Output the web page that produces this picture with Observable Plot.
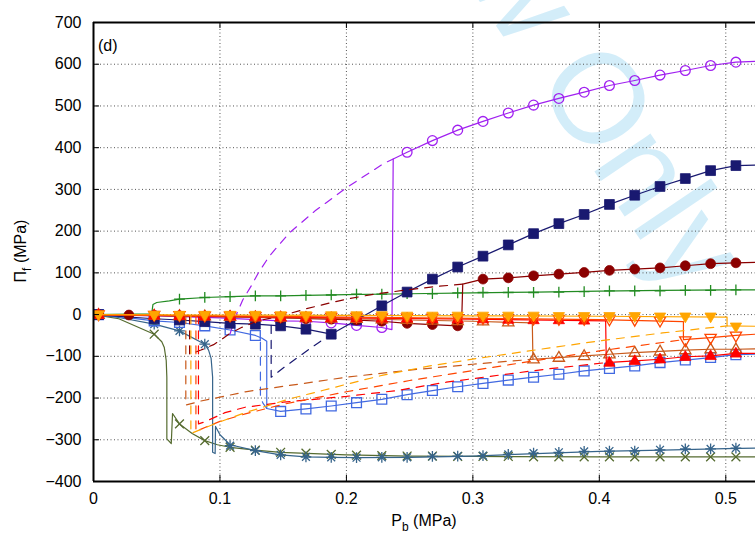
<!DOCTYPE html>
<html><head><meta charset="utf-8">
<script src="https://cdn.jsdelivr.net/npm/d3@7"></script>
<script src="https://cdn.jsdelivr.net/npm/@observablehq/plot@0.6"></script>
<style>
body{margin:0;background:#fff;}
#chart svg{display:block;}
</style></head><body><div id="chart"></div>
<script>
// ---------- axis ticks ----------
const xTicks = [0, 0.1, 0.2, 0.3, 0.4, 0.5];
const yTicks = [-400, -300, -200, -100, 0, 100, 200, 300, 400, 500, 600, 700];
const xGrid = [0.1, 0.2, 0.3, 0.4, 0.5];
const yGrid = [-300, -200, -100, 0, 100, 200, 300, 400, 500, 600];

// ---------- series (P_b [MPa], Pi_f [MPa]) ----------
// purple, open circles
const purpleSolid = [[0,0],[0.05,-3],[0.1,-8],[0.148,-15],[0.168,-16],[0.188,-20],[0.208,-26],[0.228,-31],[0.236,-36],[0.237,373],[0.248,389],[0.268,417],[0.288,442],[0.308,463],[0.328,483],[0.348,502],[0.368,518],[0.388,533],[0.408,549],[0.428,561],[0.448,574],[0.468,585],[0.488,597],[0.508,605],[0.5235,607]];
const purpleDash = [[0.108,-9],[0.108,-46],[0.113,0],[0.118,35],[0.125,70],[0.13,98],[0.139,140],[0.155,196],[0.175,248],[0.2,304],[0.23,363],[0.237,373]];
const purpleMarks = [[0.004,0],[0.048,-3],[0.068,-5],[0.088,-7],[0.108,-9],[0.128,-12],[0.148,-15],[0.168,-16],[0.188,-20],[0.208,-26],[0.228,-31],[0.248,389],[0.268,417],[0.288,442],[0.308,463],[0.328,483],[0.348,502],[0.368,518],[0.388,533],[0.408,549],[0.428,561],[0.448,574],[0.468,585],[0.488,597],[0.508,605]];

// navy, filled squares
const navySolid = [[0,0],[0.048,-10],[0.068,-13],[0.088,-17],[0.108,-21],[0.128,-23],[0.148,-27],[0.168,-35],[0.188,-47],[0.208,-13],[0.228,21],[0.248,54],[0.268,85],[0.288,114],[0.308,140],[0.328,167],[0.348,194],[0.368,218],[0.388,240],[0.408,264],[0.428,286],[0.448,307],[0.468,326],[0.488,345],[0.508,357],[0.5235,358]];
const navyDash = [[0.1405,-26],[0.1405,-150],[0.15,-128],[0.16,-106],[0.17,-84],[0.18,-63],[0.188,-47]];
const navyMarks = [[0.004,0],[0.048,-10],[0.068,-13],[0.088,-17],[0.108,-21],[0.128,-23],[0.148,-27],[0.168,-35],[0.188,-47],[0.208,-13],[0.228,21],[0.248,54],[0.268,85],[0.288,114],[0.308,140],[0.328,167],[0.348,194],[0.368,218],[0.388,240],[0.408,264],[0.428,286],[0.448,307],[0.468,326],[0.488,345],[0.508,357]];

// dark red, filled circles
const darkredSolid = [[0,0],[0.05,-2],[0.1,-5],[0.15,-8],[0.2,-12],[0.228,-16],[0.248,-21],[0.268,-24],[0.288,-27],[0.291,-30],[0.292,73],[0.308,85],[0.328,88],[0.348,93],[0.368,97],[0.388,101],[0.408,106],[0.428,109],[0.448,112],[0.468,117],[0.488,122],[0.508,124],[0.5235,125]];
const darkredDash = [[0.076,-3],[0.076,-95],[0.085,-85],[0.095,-72],[0.1,-62],[0.108,-45],[0.117,-31],[0.13,-15],[0.15,-2],[0.167,13],[0.187,28],[0.2,37],[0.22,48],[0.25,60],[0.27,67],[0.292,73]];
const darkredMarks = [[0.004,0],[0.028,-1],[0.048,-2],[0.068,-3],[0.088,-4],[0.108,-5],[0.128,-7],[0.148,-8],[0.168,-10],[0.188,-11],[0.208,-13],[0.228,-16],[0.248,-21],[0.268,-24],[0.288,-27],[0.308,85],[0.328,88],[0.348,93],[0.368,97],[0.388,101],[0.408,106],[0.428,109],[0.448,112],[0.468,117],[0.488,122],[0.508,124]];

// green, plus
const greenSolid = [[0,0],[0.046,2],[0.047,24],[0.05,29],[0.06,33],[0.068,37],[0.088,41],[0.108,43],[0.128,45],[0.148,45],[0.168,46],[0.2,48],[0.25,50],[0.3,52],[0.35,54],[0.4,56],[0.45,58],[0.5,59],[0.5235,59]];
const greenMarks = [[0.004,0],[0.068,37],[0.088,41],[0.108,43],[0.128,45],[0.148,45],[0.168,46],[0.188,47],[0.208,49],[0.228,49],[0.248,50],[0.268,50],[0.288,52],[0.308,53],[0.328,53],[0.348,53],[0.368,54],[0.388,55],[0.408,57],[0.428,57],[0.448,57],[0.468,58],[0.488,58],[0.508,59]];

// steel blue, asterisks
const steelSolid = [[0,0],[0.02,-7],[0.048,-23],[0.068,-39],[0.088,-71],[0.091,-85],[0.093,-105],[0.0942,-150],[0.0942,-330],[0.0962,-333],[0.0965,-268],[0.1,-288],[0.108,-312],[0.128,-326],[0.148,-336],[0.168,-341],[0.188,-342],[0.208,-343],[0.25,-342],[0.3,-339],[0.35,-333],[0.4,-328],[0.45,-325],[0.5,-321],[0.5235,-320]];
const steelMarks = [[0.004,0],[0.048,-23],[0.068,-39],[0.088,-71],[0.108,-314],[0.128,-326],[0.148,-336],[0.168,-341],[0.188,-342],[0.208,-343],[0.228,-342],[0.248,-342],[0.268,-340],[0.288,-339],[0.308,-338],[0.328,-335],[0.348,-332],[0.368,-330],[0.388,-328],[0.408,-327],[0.428,-327],[0.448,-324],[0.468,-322],[0.488,-322],[0.508,-320]];

// olive, crosses
const oliveSolid = [[0,0],[0.02,-10],[0.048,-47],[0.054,-65],[0.056,-79],[0.0575,-110],[0.058,-150],[0.058,-298],[0.0615,-309],[0.0625,-237],[0.068,-262],[0.078,-285],[0.088,-302],[0.098,-312],[0.108,-318],[0.128,-325],[0.148,-330],[0.2,-336],[0.25,-339],[0.3,-340],[0.4,-341],[0.5,-341],[0.5235,-341]];
const oliveMarks = [[0.004,0],[0.048,-47],[0.068,-262],[0.088,-302],[0.108,-318],[0.128,-325],[0.148,-330],[0.168,-332],[0.188,-335],[0.208,-337],[0.228,-338],[0.248,-339],[0.268,-339],[0.288,-340],[0.308,-340],[0.328,-340],[0.348,-341],[0.368,-341],[0.388,-341],[0.408,-341],[0.428,-341],[0.448,-341],[0.468,-341],[0.488,-341],[0.508,-341]];

// royal blue, open squares
const blueSolid = [[0,0],[0.02,-5],[0.048,-15],[0.068,-19],[0.088,-27],[0.108,-37],[0.128,-50],[0.133,-56],[0.137,-64],[0.137,-225],[0.148,-232],[0.168,-226],[0.188,-219],[0.208,-211],[0.228,-203],[0.248,-192],[0.268,-182],[0.288,-173],[0.308,-165],[0.328,-157],[0.348,-150],[0.368,-143],[0.388,-135],[0.408,-129],[0.428,-123],[0.448,-115],[0.468,-109],[0.488,-103],[0.508,-96],[0.5235,-95]];
const blueDash = [[0.137,-225],[0.134,-212],[0.132,-198],[0.132,-55]];
const blueMarks = [[0.004,0],[0.048,-15],[0.068,-19],[0.088,-27],[0.108,-37],[0.128,-50],[0.148,-232],[0.168,-226],[0.188,-219],[0.208,-211],[0.228,-203],[0.248,-192],[0.268,-182],[0.288,-173],[0.308,-165],[0.328,-157],[0.348,-150],[0.368,-143],[0.388,-135],[0.408,-129],[0.428,-123],[0.448,-115],[0.468,-109],[0.488,-103],[0.508,-96]];

// sienna, open up-triangles
const siennaSolid = [[0,0],[0.1,-5],[0.2,-10],[0.3,-16],[0.347,-20],[0.3475,-107],[0.368,-103],[0.388,-99],[0.408,-95],[0.428,-91],[0.448,-88],[0.468,-85],[0.488,-83],[0.508,-83],[0.5235,-82]];
const siennaDash = [[0.073,-3],[0.073,-217],[0.085,-207],[0.1,-198],[0.12,-185],[0.15,-172],[0.2,-150],[0.25,-133],[0.3,-119],[0.3475,-107]];
const siennaMarks = [[0.004,0],[0.048,-2],[0.068,-3],[0.088,-4],[0.108,-5],[0.128,-6],[0.148,-7],[0.168,-8],[0.188,-9],[0.208,-10],[0.228,-11],[0.248,-12],[0.268,-14],[0.288,-15],[0.308,-16],[0.328,-18],[0.348,-107],[0.368,-103],[0.388,-99],[0.408,-95],[0.428,-91],[0.448,-88],[0.468,-85],[0.488,-83],[0.508,-83]];

// red, filled up-triangles
const redSolid = [[0,0],[0.1,-4],[0.2,-8],[0.3,-11],[0.405,-15],[0.4055,-115],[0.428,-111],[0.448,-107],[0.468,-101],[0.488,-99],[0.508,-93],[0.5235,-93]];
const redDash = [[0.083,-3],[0.083,-262],[0.088,-257],[0.104,-235],[0.12,-222],[0.15,-210],[0.2,-196],[0.24,-182],[0.279,-162],[0.321,-145],[0.36,-130],[0.4055,-115]];
const redMarks = [[0.004,0],[0.048,-2],[0.068,-3],[0.088,-4],[0.108,-4],[0.128,-5],[0.148,-6],[0.168,-7],[0.188,-8],[0.208,-8],[0.228,-9],[0.248,-9],[0.268,-10],[0.288,-11],[0.308,-11],[0.328,-12],[0.348,-13],[0.368,-13],[0.388,-14],[0.408,-115],[0.428,-111],[0.448,-107],[0.468,-101],[0.488,-99],[0.508,-93]];

// orange-red, open down-triangles
const orangeredSolid = [[0,0],[0.1,-3],[0.2,-6],[0.3,-9],[0.4,-12],[0.4665,-17],[0.4665,-60],[0.488,-55],[0.508,-50],[0.5235,-47]];
const orangeredDash = [[0.081,-3],[0.081,-280],[0.09,-268],[0.1,-256],[0.12,-238],[0.15,-215],[0.2,-185],[0.25,-158],[0.3,-134],[0.35,-110],[0.4,-87],[0.4665,-60]];
const orangeredMarks = [[0.004,0],[0.048,-1],[0.068,-2],[0.088,-3],[0.108,-3],[0.128,-4],[0.148,-4],[0.168,-5],[0.188,-6],[0.208,-6],[0.228,-7],[0.248,-7],[0.268,-8],[0.288,-9],[0.308,-9],[0.328,-10],[0.348,-10],[0.368,-11],[0.388,-11],[0.408,-12],[0.428,-13],[0.448,-15],[0.468,-62],[0.488,-56],[0.508,-51]];

// orange, filled down-triangles
const orangeSolid = [[0,0],[0.1,-1],[0.2,-2],[0.3,-3],[0.4,-4],[0.501,-6],[0.501,-27],[0.5235,-28]];
const orangeDash = [[0.077,-3],[0.077,-285],[0.085,-275],[0.1,-257],[0.12,-235],[0.155,-202],[0.181,-182],[0.2,-167],[0.229,-145],[0.266,-123],[0.306,-104],[0.342,-88],[0.4,-63],[0.45,-44],[0.501,-27]];
const orangeMarks = [[0.004,0],[0.048,-1],[0.068,-1],[0.088,-1],[0.108,-1],[0.128,-1],[0.148,-2],[0.168,-2],[0.188,-2],[0.208,-2],[0.228,-2],[0.248,-3],[0.268,-3],[0.288,-3],[0.308,-3],[0.328,-3],[0.348,-3],[0.368,-4],[0.388,-4],[0.408,-4],[0.428,-4],[0.448,-5],[0.468,-5],[0.488,-5],[0.508,-29]];

// ---------- symbols ----------
function sym(kind) {
  return {draw(ctx, size) {
    const r = Math.sqrt(size / Math.PI);
    if (kind === "square") { ctx.rect(-r, -r, 2*r, 2*r); }
    else if (kind === "circle") { ctx.moveTo(r, 0); ctx.arc(0, 0, r, 0, 2*Math.PI); }
    else if (kind === "up") { ctx.moveTo(0, -1.25*r); ctx.lineTo(1.15*r, 0.75*r); ctx.lineTo(-1.15*r, 0.75*r); ctx.closePath(); }
    else if (kind === "down") { ctx.moveTo(0, 1.25*r); ctx.lineTo(1.15*r, -0.75*r); ctx.lineTo(-1.15*r, -0.75*r); ctx.closePath(); }
    else if (kind === "plus") { ctx.moveTo(-r*1.1, 0); ctx.lineTo(r*1.1, 0); ctx.moveTo(0, -r*1.1); ctx.lineTo(0, r*1.1); }
    else if (kind === "times") { const a = r*0.9; ctx.moveTo(-a, -a); ctx.lineTo(a, a); ctx.moveTo(-a, a); ctx.lineTo(a, -a); }
    else if (kind === "star") { const a = r*0.8; ctx.moveTo(-r*1.1, 0); ctx.lineTo(r*1.1, 0); ctx.moveTo(0, -r*1.1); ctx.lineTo(0, r*1.1); ctx.moveTo(-a, -a); ctx.lineTo(a, a); ctx.moveTo(-a, a); ctx.lineTo(a, -a); }
  }};
}

const X = d => d[0], Y = d => d[1];
function series(solid, dash, marks, color, kind, filled) {
  const out = [];
  if (dash) out.push(Plot.line(dash, {x: X, y: Y, stroke: color, strokeWidth: 1.2, strokeDasharray: "8,7", clip: true}));
  out.push(Plot.line(solid, {x: X, y: Y, stroke: color, strokeWidth: 1.2, clip: true}));
  out.push(Plot.dot(marks, {x: X, y: Y, symbol: sym(kind), r: 4.9, fill: filled ? color : "none", stroke: color, strokeWidth: filled ? 0.8 : 1.3, clip: true}));
  return out;
}

const plotW = 755 - 93, plotH = 481 - 22;

const chart = Plot.plot({
  width: 755, height: 533,
  marginLeft: 93, marginRight: 0, marginTop: 22, marginBottom: 52,
  style: {fontFamily: "'Liberation Sans', Arial, sans-serif", fontSize: "16px", background: "white", color: "black"},
  x: {domain: [0, 0.5235], ticks: xTicks, tickSize: 0, tickPadding: 11, tickFormat: d => d === 0 ? "0" : d.toFixed(1), label: null},
  y: {domain: [-400, 700], ticks: yTicks, tickSize: 0, tickPadding: 12, tickFormat: d => d < 0 ? "\u2212" + Math.abs(d) : String(d), label: null},
  marks: [
    Plot.ruleX(xGrid, {x: d => d, stroke: "#555", strokeWidth: 1, strokeDasharray: "1,2.5"}),
    Plot.ruleY(yGrid, {y: d => d, stroke: "#555", strokeWidth: 1, strokeDasharray: "1,2.5"}),
    ...series(oliveSolid, null, oliveMarks, "#556b2f", "times", false),
    ...series(steelSolid, null, steelMarks, "#36648b", "star", false),
    ...series(blueSolid, blueDash, blueMarks, "#4169e1", "square", false),
    ...series(greenSolid, null, greenMarks, "#228b22", "plus", false),
    ...series(purpleSolid, purpleDash, purpleMarks, "#a020f0", "circle", false),
    ...series(navySolid, navyDash, navyMarks, "#191970", "square", true),
    ...series(darkredSolid, darkredDash, darkredMarks, "#8b0000", "circle", true),
    ...series(siennaSolid, siennaDash, siennaMarks, "#c8591a", "up", false),
    ...series(redSolid, redDash, redMarks, "#ff0000", "up", true),
    ...series(orangeredSolid, orangeredDash, orangeredMarks, "#ff4500", "down", false),
    ...series(orangeSolid, orangeDash, orangeMarks, "#ffa500", "down", true),
    Plot.tickX(xTicks, {x: d => d, stroke: "black", strokeWidth: 1, insetTop: plotH - 6}),
    Plot.tickX(xTicks, {x: d => d, stroke: "black", strokeWidth: 1, insetBottom: plotH - 6}),
    Plot.tickY(yTicks, {y: d => d, stroke: "black", strokeWidth: 1, insetRight: plotW - 6}),
    Plot.ruleX([0], {x: d => d, stroke: "black", strokeWidth: 2}),
    Plot.ruleY([-400, 700], {y: d => d, stroke: "black", strokeWidth: 2})
  ]
});

document.getElementById("chart").appendChild(chart);
const svg = d3.select(chart);

// watermark
svg.append("text")
  .attr("transform", "translate(681,300) rotate(56)")
  .attr("text-anchor", "end")
  .attr("font-family", "'Liberation Sans', Arial, sans-serif")
  .attr("font-size", 128)
  .attr("fill", "#d3edf9")
  .text("For Review Only")
  .lower();

// panel tag
svg.append("text").attr("x", 98).attr("y", 51).attr("text-anchor", "start").attr("font-size", 16).attr("fill", "black").text("(d)");

// x label
const xl = svg.append("text").attr("x", 424).attr("y", 526).attr("text-anchor", "middle").attr("font-size", 16).attr("fill", "black");
xl.append("tspan").text("P");
xl.append("tspan").attr("dy", 5).attr("font-size", 12).text("b");
xl.append("tspan").attr("dy", -5).text(" (MPa)");

// y label
const yl = svg.append("text").attr("transform", "translate(26,251) rotate(-90)").attr("text-anchor", "middle").attr("font-size", 16).attr("fill", "black");
yl.append("tspan").text("\u03A0");
yl.append("tspan").attr("dy", 5).attr("font-size", 12).text("f");
yl.append("tspan").attr("dy", -5).text(" (MPa)");
</script></body></html>
